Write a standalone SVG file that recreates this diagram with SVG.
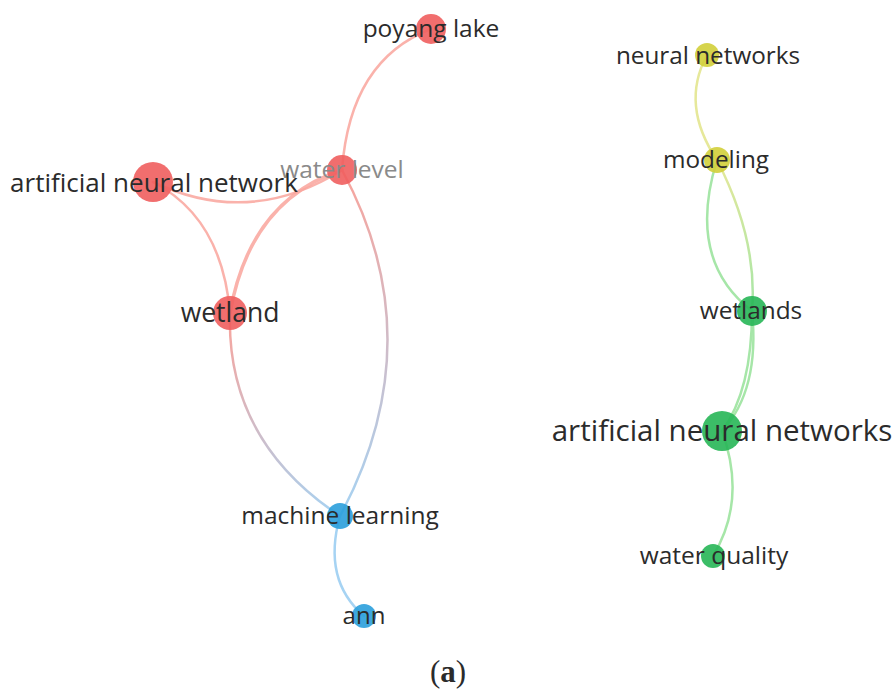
<svg xmlns="http://www.w3.org/2000/svg" width="896" height="693" viewBox="0 0 896 693">
<defs>
<style>
text{font-family:"Open Sans","Liberation Sans",sans-serif;fill:#2b2b2b;text-anchor:middle}
.e{fill:none;stroke-linecap:round}
.r{stroke:#f9a49c;stroke-width:2.5;opacity:.85}
.b{stroke:#a6d3f3;stroke-width:2.5}
.y{stroke:#e6e89a;stroke-width:2.5}
.g{stroke:#a6e6a8;stroke-width:2.5}
.nr{fill:#f05e5e;opacity:.9}
.nb{fill:#2a9fdc;opacity:.9}
.ny{fill:#d2cf3a;opacity:.9}
.ng{fill:#27b656;opacity:.9}
</style>
<linearGradient id="gWM" gradientUnits="userSpaceOnUse" x1="230" y1="313" x2="340" y2="516">
<stop offset="0" stop-color="#f9a49c"/><stop offset="1" stop-color="#a6d3f3"/>
</linearGradient>
<linearGradient id="gLM" gradientUnits="userSpaceOnUse" x1="342" y1="170" x2="340" y2="516">
<stop offset="0" stop-color="#f9a49c"/><stop offset="1" stop-color="#a6d3f3"/>
</linearGradient>
<linearGradient id="gMW" gradientUnits="userSpaceOnUse" x1="717" y1="160" x2="752" y2="311">
<stop offset="0" stop-color="#e6e89a"/><stop offset="1" stop-color="#a6e6a8"/>
</linearGradient>
</defs>
<rect width="896" height="693" fill="#fff"/>
<g id="connectors">
<path class="e r" d="M431,29 Q350,60 342,170"/>
<path class="e r" d="M153,182 Q250,228 342,170"/>
<path class="e r" d="M153,182 Q222,218 230,313"/>
<path class="e r" style="stroke-width:3.5" d="M230,313 Q250,200 342,170"/>
<path class="e" stroke="url(#gLM)" stroke-width="2.5" d="M342,170 Q434,340 340,516"/>
<path class="e" stroke="url(#gWM)" stroke-width="2.5" d="M230,313 Q226,440 340,516"/>
<path class="e b" d="M340,516 Q322,580 364,616"/>
<path class="e y" d="M707,55 Q680,105 717,160"/>
<path class="e g" d="M717,160 Q686,260 752,311"/>
<path class="e" stroke="url(#gMW)" stroke-width="2.5" d="M717,160 Q758,240 752,311"/>
<path class="e g" d="M752,311 Q760,390 722,431"/>
<path class="e g" d="M752,311 Q752,390 722,431"/>
<path class="e g" d="M722,431 Q747,500 713,556"/>
</g>
<g id="node-poyang-lake"><circle class="nr" cx="431" cy="29" r="15"/><text x="431" y="37" font-size="24.5">poyang lake</text></g>
<g id="node-water-level"><circle class="nr" cx="342" cy="170" r="15"/><text x="342" y="178" font-size="24.5" style="fill:#8a8a8a">water level</text></g>
<g id="node-artificial-neural-network"><circle class="nr" cx="153" cy="182" r="20"/><text x="154" y="192" font-size="26">artificial neural network</text></g>
<g id="node-wetland"><circle class="nr" cx="230" cy="313" r="17"/><text x="230" y="322" font-size="26.5">wetland</text></g>
<g id="node-machine-learning"><circle class="nb" cx="340" cy="516" r="13"/><text x="340" y="524" font-size="24.5">machine learning</text></g>
<g id="node-ann"><circle class="nb" cx="364" cy="616" r="12"/><text x="364" y="624" font-size="24">ann</text></g>
<g id="node-neural-networks"><circle class="ny" cx="707" cy="55" r="12"/><text x="708" y="64" font-size="24.3">neural networks</text></g>
<g id="node-modeling"><circle class="ny" cx="717" cy="160" r="13"/><text x="716" y="168" font-size="24.3">modeling</text></g>
<g id="node-wetlands"><circle class="ng" cx="752" cy="311" r="15"/><text x="751" y="319" font-size="24.4">wetlands</text></g>
<g id="node-artificial-neural-networks"><circle class="ng" cx="722" cy="431" r="20"/><text x="722" y="441" font-size="29.5">artificial neural networks</text></g>
<g id="node-water-quality"><circle class="ng" cx="713" cy="556" r="12"/><text x="714" y="564" font-size="24.5">water quality</text></g>
<text x="448" y="682" font-size="31" style="font-family:'Liberation Serif',serif"><tspan font-weight="normal">(</tspan><tspan font-weight="bold">a</tspan><tspan font-weight="normal">)</tspan></text>
</svg>
